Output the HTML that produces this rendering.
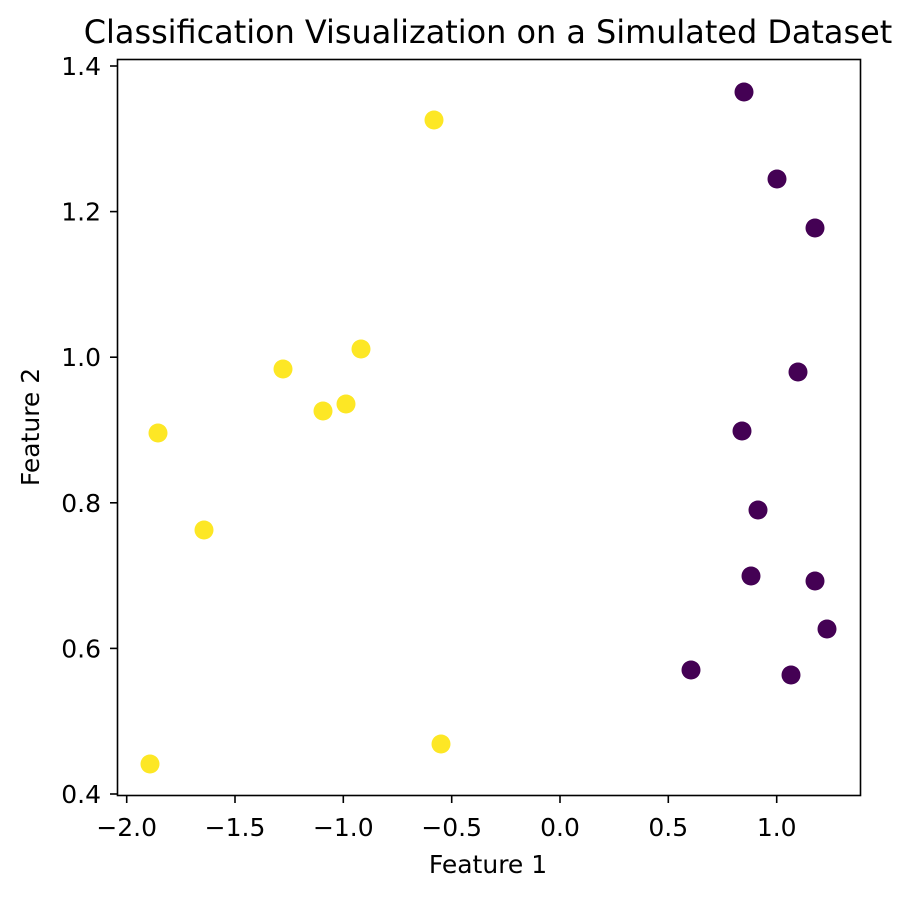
<!DOCTYPE html>
<html><head><style>body{margin:0;background:#fff}</style></head><body>
<svg width="912" height="898" xmlns="http://www.w3.org/2000/svg" font-family="DejaVu Sans, Liberation Sans, sans-serif">
<rect width="912" height="898" fill="#fff"/>
<text x="488" y="43" font-size="31.9" text-anchor="middle" fill="#000">Classification Visualization on a Simulated Dataset</text>
<g fill="#fde725">
<circle cx="434" cy="120" r="9.5"/><circle cx="283" cy="369" r="9.5"/><circle cx="361" cy="349" r="9.5"/>
<circle cx="323" cy="411" r="9.5"/><circle cx="346" cy="404" r="9.5"/><circle cx="158" cy="433" r="9.5"/>
<circle cx="204" cy="530" r="9.5"/><circle cx="150" cy="764" r="9.5"/><circle cx="441" cy="744" r="9.5"/>
</g>
<g fill="#440154">
<circle cx="744" cy="92" r="9.5"/><circle cx="777" cy="179" r="9.5"/><circle cx="815" cy="228" r="9.5"/>
<circle cx="798" cy="372" r="9.5"/><circle cx="742" cy="431" r="9.5"/><circle cx="758" cy="510" r="9.5"/>
<circle cx="751" cy="576" r="9.5"/><circle cx="815" cy="581" r="9.5"/><circle cx="827" cy="629" r="9.5"/>
<circle cx="691" cy="670" r="9.5"/><circle cx="791" cy="675" r="9.5"/>
</g>
<rect x="117.5" y="59.5" width="743" height="736" fill="none" stroke="#000" stroke-width="1.6"/>
<g stroke="#000" stroke-width="1.6">
<line x1="126.7" y1="796" x2="126.7" y2="803"/><line x1="235" y1="796" x2="235" y2="803"/>
<line x1="343.3" y1="796" x2="343.3" y2="803"/><line x1="451.7" y1="796" x2="451.7" y2="803"/>
<line x1="560" y1="796" x2="560" y2="803"/><line x1="668.3" y1="796" x2="668.3" y2="803"/>
<line x1="776.7" y1="796" x2="776.7" y2="803"/>
<line x1="110" y1="66" x2="117" y2="66"/><line x1="110" y1="211.6" x2="117" y2="211.6"/>
<line x1="110" y1="357.2" x2="117" y2="357.2"/><line x1="110" y1="502.8" x2="117" y2="502.8"/>
<line x1="110" y1="648.4" x2="117" y2="648.4"/><line x1="110" y1="794" x2="117" y2="794"/>
</g>
<g font-size="25" fill="#000" text-anchor="middle">
<text x="126.7" y="836">−2.0</text><text x="235" y="836">−1.5</text><text x="343.3" y="836">−1.0</text>
<text x="451.7" y="836">−0.5</text><text x="560" y="836">0.0</text><text x="668.3" y="836">0.5</text>
<text x="776.7" y="836">1.0</text>
</g>
<g font-size="25" fill="#000" text-anchor="end">
<text x="101" y="75">1.4</text><text x="101" y="220.6">1.2</text><text x="101" y="366.2">1.0</text>
<text x="101" y="511.8">0.8</text><text x="101" y="657.4">0.6</text><text x="101" y="803">0.4</text>
</g>
<text x="488" y="873" font-size="25" text-anchor="middle">Feature 1</text>
<text transform="translate(39,427) rotate(-90)" font-size="25" text-anchor="middle">Feature 2</text>
</svg>
</body></html>
